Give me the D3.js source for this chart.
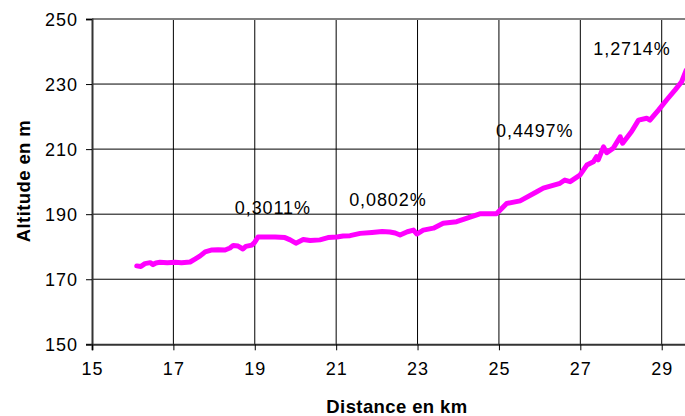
<!DOCTYPE html>
<html><head><meta charset="utf-8">
<script src="https://cdn.jsdelivr.net/npm/d3@7"></script>
<style>
html,body{margin:0;padding:0;background:#fff;}
svg{display:block;}
text{font-family:"Liberation Sans",Arial,sans-serif;fill:#000;}
</style></head>
<body><svg id="c" width="685" height="416"></svg>
<script>
const distance = [16.10,16.20,16.30,16.43,16.50,16.57,16.67,16.85,17.04,17.20,17.41,17.53,17.65,17.78,17.95,18.10,18.27,18.39,18.47,18.59,18.71,18.78,18.93,19.00,19.08,19.25,19.50,19.74,19.87,20.01,20.19,20.36,20.60,20.80,21.02,21.17,21.34,21.59,21.88,22.13,22.32,22.45,22.57,22.75,22.90,22.98,23.14,23.39,23.63,23.96,24.20,24.53,24.94,25.19,25.52,25.93,26.09,26.50,26.62,26.75,26.99,27.16,27.32,27.40,27.44,27.57,27.65,27.81,27.98,28.04,28.26,28.43,28.63,28.71,28.92,29.12,29.33,29.49,29.60];
const altitude = [174.1,173.9,174.8,175.1,174.5,175.0,175.2,175.1,175.2,175.1,175.3,176.2,177.1,178.4,179.0,179.1,179.0,179.6,180.4,180.2,179.3,180.1,180.5,181.4,183.0,183.0,183.0,182.8,182.1,181.1,182.2,181.9,182.1,182.8,183.0,183.3,183.4,184.1,184.4,184.7,184.5,184.2,183.6,184.6,185.1,183.9,185.1,185.7,187.2,187.7,188.7,190.1,190.1,193.3,194.1,196.9,198.0,199.5,200.5,200.0,202.0,205.1,206.1,207.7,206.7,210.7,208.9,210.3,213.8,211.8,215.4,218.9,219.5,218.9,222.0,225.1,228.2,230.7,234.2];
const xTicks = [15,17,19,21,23,25,27,29];
const yTicks = [150,170,190,210,230,250];
const slopeLabels = ["0,3011%","0,0802%","0,4497%","1,2714%"];
const slopeLabelX = [18.51,21.32,24.93,27.32];
const slopeLabelY = [190.0,192.6,213.8,238.9];

const svg = d3.select("#c");
const x = d3.scaleLinear().domain([15,30]).range([92,702.4]);
const y = d3.scaleLinear().domain([150,250]).range([344.3,19]);
const right = 685;

// gridlines
svg.append("g").selectAll("line").data(yTicks.filter(d=>d>150&&d<250)).join("line")
  .attr("x1",92).attr("x2",right).attr("y1",d=>y(d)).attr("y2",d=>y(d))
  .attr("stroke","#000").attr("stroke-width",1);
svg.append("g").selectAll("line").data(xTicks.filter(d=>d>15)).join("line")
  .attr("x1",d=>x(d)).attr("x2",d=>x(d)).attr("y1",y(250)).attr("y2",y(150))
  .attr("stroke","#000").attr("stroke-width",1);
// top border
svg.append("line").attr("x1",92).attr("x2",right).attr("y1",y(250)).attr("y2",y(250))
  .attr("stroke","#808080").attr("stroke-width",2);

// axes
const yAxis = d3.axisLeft(y).tickValues(yTicks).tickSize(6).tickPadding(8).tickFormat(d3.format("d"));
const gy = svg.append("g").attr("transform","translate(92,0)").call(yAxis);
gy.select(".domain").attr("stroke","#333").attr("stroke-width",2);
gy.selectAll(".tick line").attr("stroke","#000");
gy.selectAll(".tick text").style("font-size","18px").style("letter-spacing","1px").attr("dy","0.35em");

const xAxis = d3.axisBottom(x).tickValues(xTicks).tickSize(6).tickPadding(12).tickFormat(d3.format("d"));
const gx = svg.append("g").attr("transform",`translate(0,${y(150)})`).call(xAxis);
gx.select(".domain").attr("stroke","#333").attr("stroke-width",2);
gx.selectAll(".tick line").attr("stroke","#000");
gx.selectAll(".tick text").style("font-size","18px").style("letter-spacing","1px");

// line
const pts = distance.map((d,i)=>[d,altitude[i]]);
svg.append("path").datum(pts)
  .attr("d", d3.line().x(d=>x(d[0])).y(d=>y(d[1])))
  .attr("fill","none").attr("stroke","#FF00FF").attr("stroke-width",5)
  .attr("stroke-linejoin","round").attr("stroke-linecap","round");

// slope labels
svg.append("g").selectAll("text").data(slopeLabels).join("text")
  .attr("x",(d,i)=>x(slopeLabelX[i])).attr("y",(d,i)=>y(slopeLabelY[i]))
  .style("font-size","18px").style("letter-spacing","0.9px").text(d=>d);

// axis titles
svg.append("text").attr("x",397).attr("y",413).attr("text-anchor","middle")
  .style("font-size","18.5px").style("font-weight","bold").style("letter-spacing","0.4px").text("Distance en km");
svg.append("text").attr("transform","translate(30,181) rotate(-90)").attr("text-anchor","middle")
  .style("font-size","18.5px").style("font-weight","bold").style("letter-spacing","0.4px").text("Altitude en m");
</script></body></html>
